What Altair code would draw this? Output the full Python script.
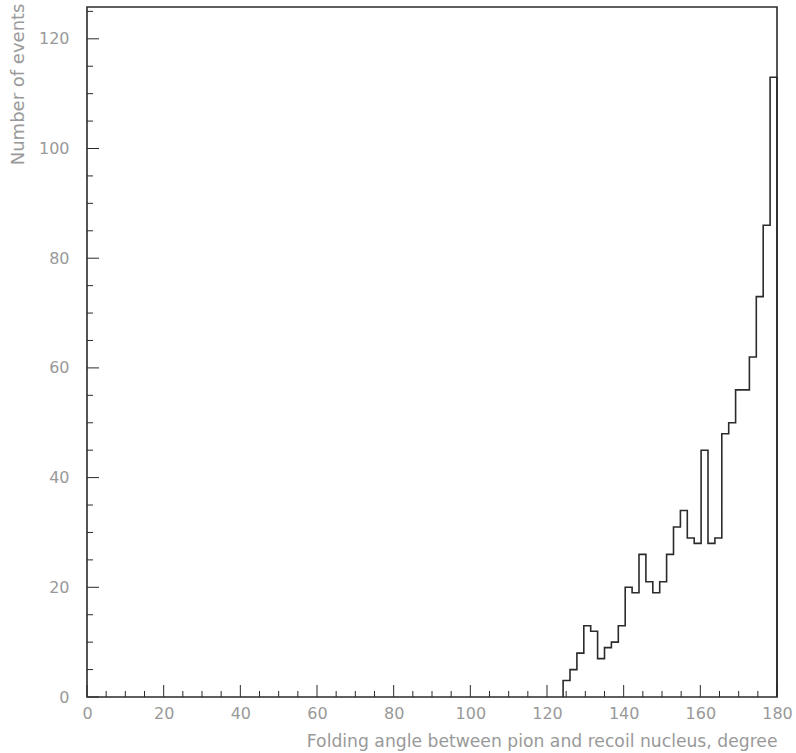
import altair as alt
import pandas as pd

# Histogram of the folding angle (1.8 degree bins, 100 bins over 0-180)
bin_start = 124.2
bin_width = 1.8
counts = [3, 5, 8, 13, 12, 7, 9, 10, 13, 20, 19, 26, 21, 19, 21, 26,
          31, 34, 29, 28, 45, 28, 29, 48, 50, 56, 56, 62, 73, 86, 113]

x_label_values = [0, 20, 40, 60, 80, 100, 120, 140, 160, 180]
y_label_values = [0, 20, 40, 60, 80, 100, 120]
x_minor = [v for v in range(0, 181, 5) if v % 20 != 0]
y_minor = [v for v in range(0, 126, 5) if v % 20 != 0]

W, H = 690, 690
X_MAX, Y_MAX = 180, 125.8
INK = "#2b2b2b"
TEXT = "#999999"
FONT = "DejaVu Sans"

# outline of the histogram as a sequence of step vertices
verts = [(bin_start, 0.0)]
for i, c in enumerate(counts):
    left = bin_start + i * bin_width
    verts.append((left, c))
    verts.append((left + bin_width, c))
verts.append((bin_start + len(counts) * bin_width, 0.0))
hist = pd.DataFrame({"angle": [v[0] for v in verts],
                     "events": [v[1] for v in verts],
                     "k": range(len(verts))})

xs = alt.Scale(domain=[0, X_MAX], nice=False, zero=False)
ys = alt.Scale(domain=[0, Y_MAX], nice=False)

x_axis = alt.Axis(values=x_label_values, ticks=False, domain=False, grid=False,
                  labelFontSize=16, labelColor=TEXT, labelFont=FONT,
                  labelPadding=8, labelFlush=False,
                  title="Folding angle between pion and recoil nucleus, degree",
                  titleFontSize=17.2, titleFont=FONT, titleColor=TEXT,
                  titleFontWeight="normal", titleAlign="right", titleAnchor="end",
                  titleX=W, titleY=44, titleBaseline="middle")
y_axis = alt.Axis(values=y_label_values, ticks=False, domain=False, grid=False,
                  labelFontSize=16, labelColor=TEXT, labelFont=FONT,
                  labelPadding=18,
                  title="Number of events",
                  titleFontSize=18, titleFont=FONT, titleColor=TEXT,
                  titleFontWeight="normal", titleAngle=270, titleAlign="right",
                  titleBaseline="middle", titleX=-69, titleY=-4)

line = alt.Chart(hist).mark_line(color=INK, strokeWidth=1.6,
                                 strokeJoin="miter").encode(
    x=alt.X("angle:Q", scale=xs, axis=x_axis),
    y=alt.Y("events:Q", scale=ys, axis=y_axis),
    order="k:Q",
)

def xticks(vals, length):
    return alt.Chart(pd.DataFrame({"t": vals})).mark_rule(
        color=INK, strokeWidth=1).encode(
        x=alt.X("t:Q", scale=xs), y=alt.value(H), y2=alt.value(H - length))

def yticks(vals, length):
    return alt.Chart(pd.DataFrame({"t": vals})).mark_rule(
        color=INK, strokeWidth=1).encode(
        y=alt.Y("t:Q", scale=ys), x=alt.value(0), x2=alt.value(length))

chart = alt.layer(
    xticks(x_label_values, 12), xticks(x_minor, 6),
    yticks(y_label_values, 12), yticks(y_minor, 6),
    line,
).properties(
    width=W, height=H,
    autosize=alt.AutoSizeParams(type="none"),
    padding={"left": 87, "top": 7, "right": 19, "bottom": 56},
    background="white",
).configure_view(
    stroke=INK, strokeWidth=1.6,
)

chart.save("out.html", embed_options={"renderer": "svg", "actions": False})
